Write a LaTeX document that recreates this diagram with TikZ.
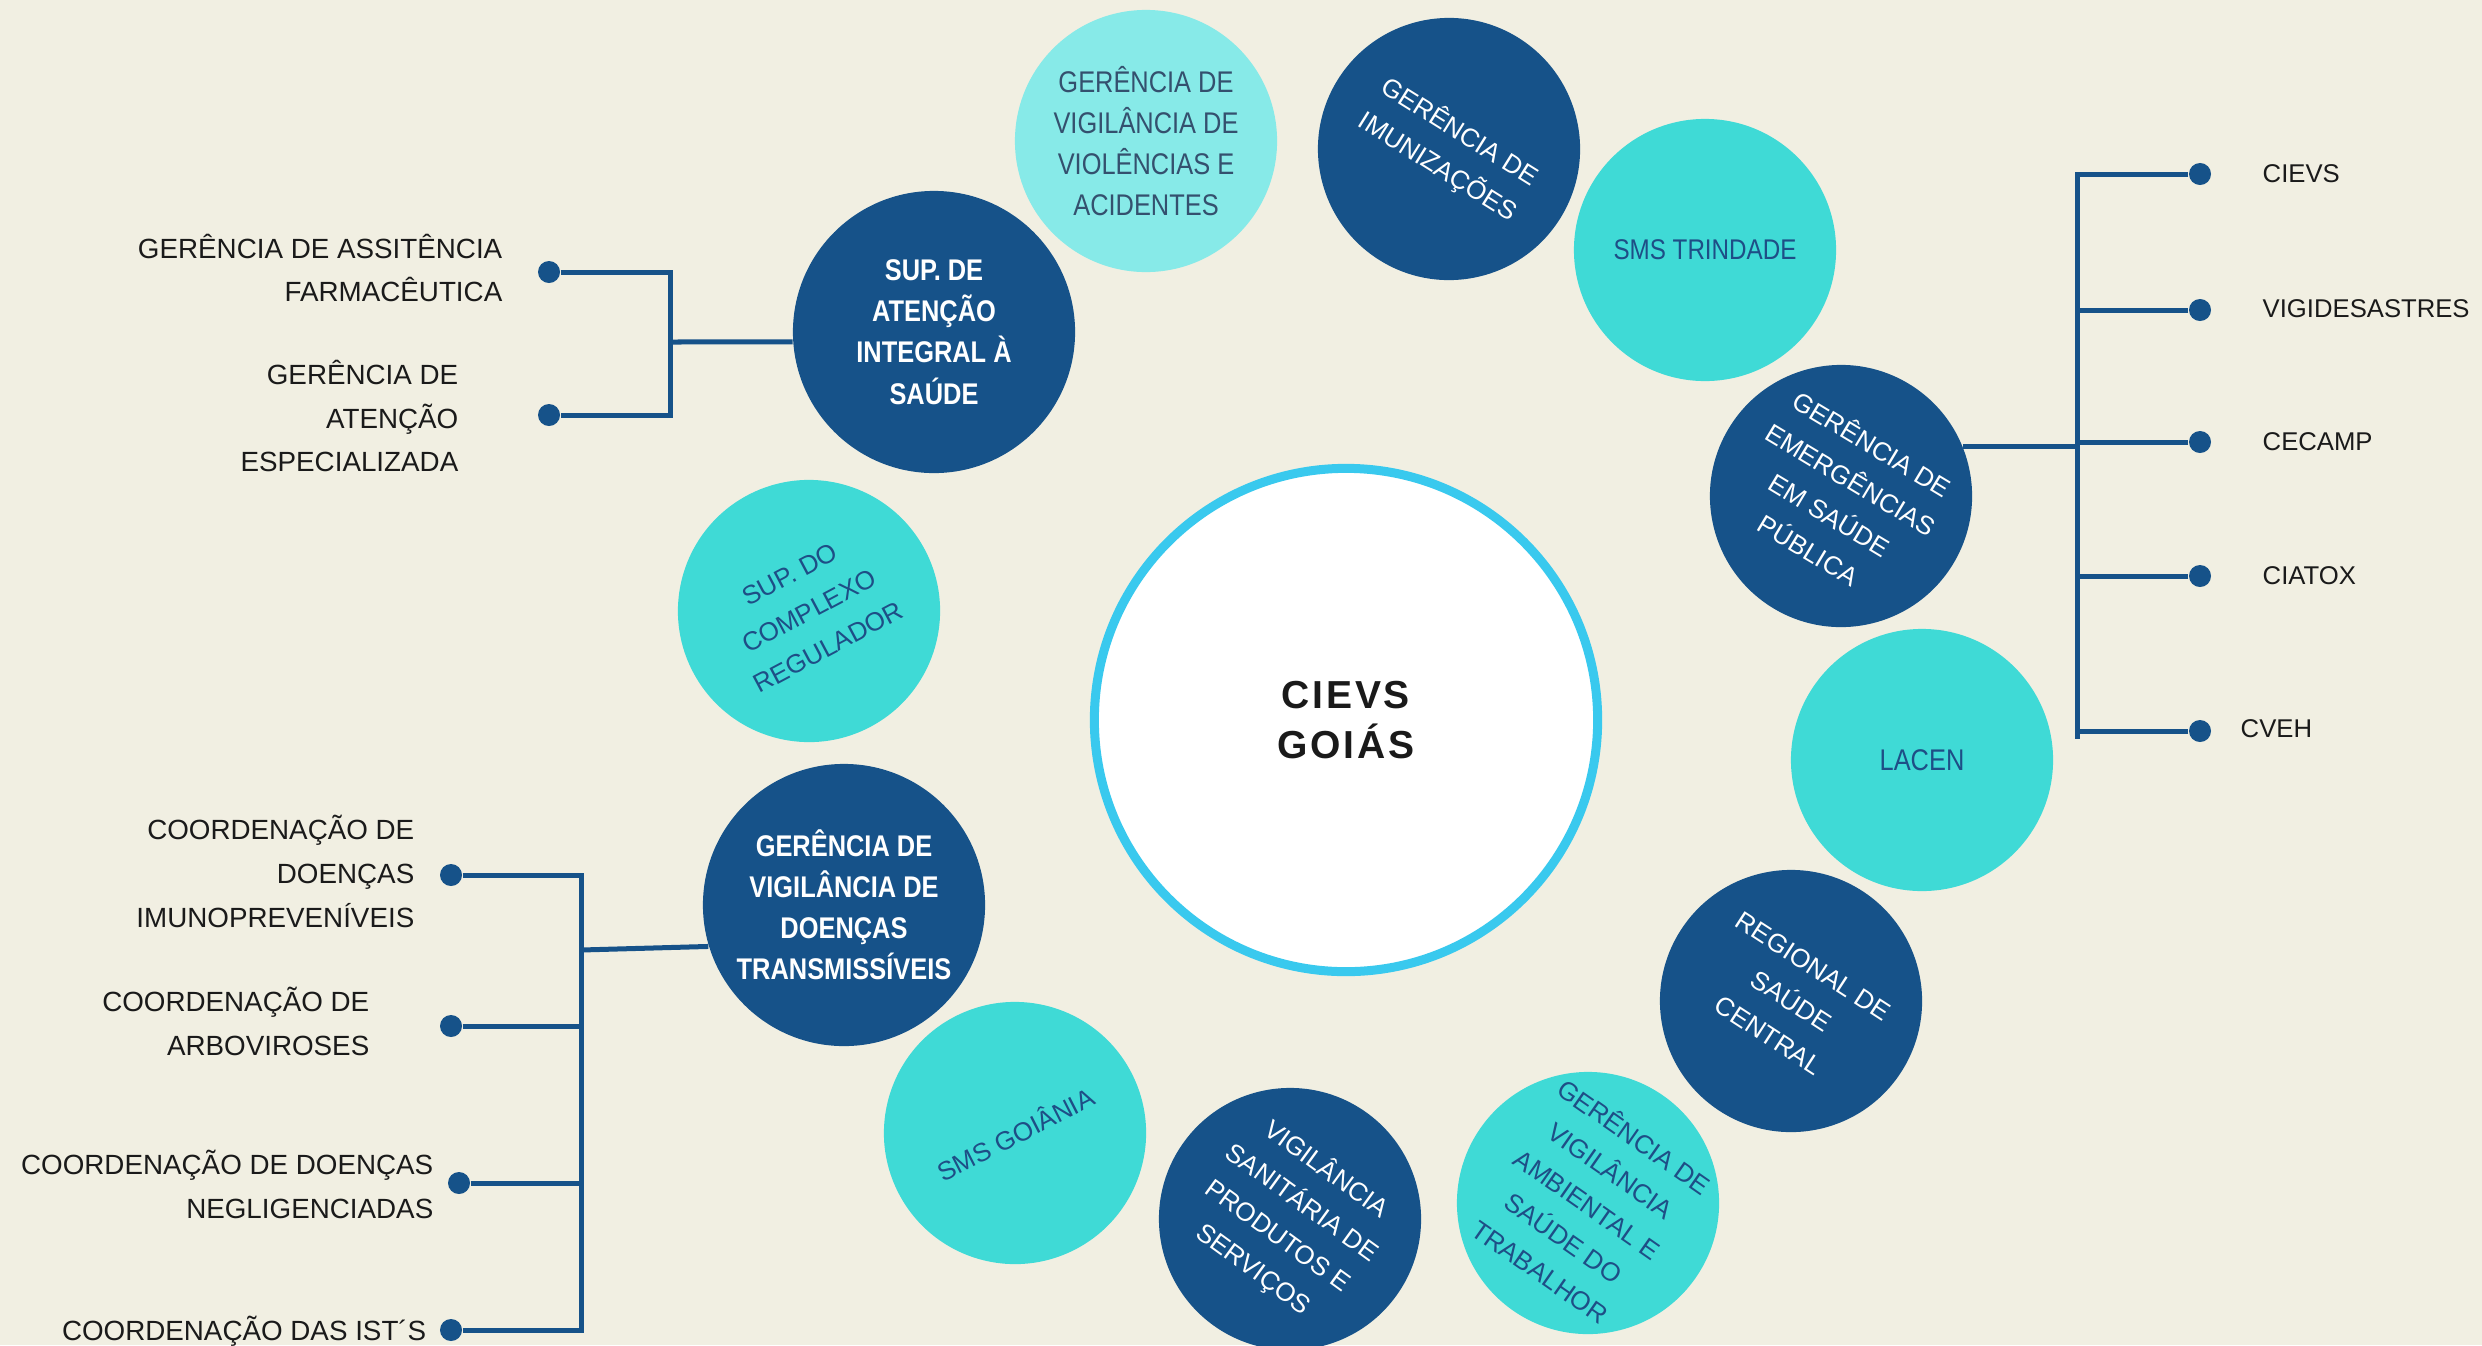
\documentclass[tikz,border=0pt]{standalone}
\usepackage{fontspec}
\setmainfont{Liberation Sans}
\newfontfamily\condf[FakeStretch=0.85]{Liberation Sans}
\newfontfamily\titlef[LetterSpace=7]{Liberation Sans}
\definecolor{bg}{RGB}{241,239,226}
\definecolor{dk}{RGB}{22,82,137}
\definecolor{tq}{RGB}{63,218,214}
\definecolor{lc}{RGB}{135,234,232}
\definecolor{ring}{RGB}{57,201,238}
\definecolor{navytxt}{RGB}{30,78,134}
\definecolor{graytxt}{RGB}{52,80,110}
\definecolor{labtxt}{RGB}{26,26,26}
\tikzset{
  bub/.style={circle, inner sep=0pt, align=center, minimum size=2.62cm},
  dkc/.style={bub, fill=dk, text=white},
  tqc/.style={bub, fill=tq, text=navytxt},
  lcc/.style={bub, fill=lc, text=graytxt},
  big/.style={minimum size=2.82cm},
  condtxt/.style={font=\condf\fontsize{8.5}{11.7}\selectfont},
  rottxt/.style={font=\fontsize{7.4}{11.7}\selectfont},
  tree/.style={draw=dk, line width=0.05cm},
  dot/.style={circle, fill=dk, inner sep=0pt, minimum size=0.22cm},
  lab/.style={inner sep=0pt, text=labtxt, font=\fontsize{7.9}{12.5}\selectfont},
  rlab/.style={lab, anchor=west, font=\fontsize{7.3}{12.5}\selectfont},
}
\begin{document}
\begin{tikzpicture}[x=0.01cm, y=-0.01cm]
\useasboundingbox (0,0) rectangle (2482,1345);
\fill[bg] (0,0) rectangle (2482,1345);

% central circle
\node[circle, draw=ring, line width=0.09cm, fill=white, minimum size=5.03cm, inner sep=0pt,
      align=center, text=labtxt, font=\titlef\bfseries\fontsize{11.1}{14.2}\selectfont]
      (cievs) at (1346,720) {CIEVS\\GOIÁS};

% ring of bubbles
\node[lcc, condtxt] (viol) at (1146,141) {GERÊNCIA DE\\VIGILÂNCIA DE\\VIOLÊNCIAS E\\ACIDENTES};
\node[dkc, rottxt, rotate=-32] (imun) at (1449,149) {GERÊNCIA DE\\IMUNIZAÇÕES};
\node[tqc, font=\condf\fontsize{8.1}{11.7}\selectfont] (trin) at (1705,250) {SMS TRINDADE};
\node[dkc, rottxt, rotate=-31] (emerg) at (1841,496) {GERÊNCIA DE\\EMERGÊNCIAS\\EM SAÚDE\\PÚBLICA};
\node[tqc, condtxt] (lacen) at (1922,760) {LACEN};
\node[dkc, rottxt, rotate=-33] (reg) at (1791,1001) {REGIONAL DE\\SAÚDE\\CENTRAL};
\node[tqc, rottxt, rotate=-35] (amb) at (1588,1203) {GERÊNCIA DE\\VIGILÂNCIA\\AMBIENTAL E\\SAÚDE DO\\TRABALHOR};
\node[dkc, rottxt, rotate=-36] (visa) at (1290,1219) {VIGILÂNCIA\\SANITÁRIA DE\\PRODUTOS E\\SERVIÇOS};
\node[tqc, rottxt, rotate=27] (goia) at (1015,1133) {SMS GOIÂNIA};
\node[dkc, big, font=\condf\bfseries\fontsize{8.5}{11.7}\selectfont] (transm) at (844,905) {GERÊNCIA DE\\VIGILÂNCIA DE\\DOENÇAS\\TRANSMISSÍVEIS};
\node[tqc, rottxt, rotate=28] (compl) at (809,611) {SUP. DO\\COMPLEXO\\REGULADOR};
\node[dkc, big, font=\condf\bfseries\fontsize{8.5}{11.7}\selectfont] (supat) at (934,332) {SUP. DE\\ATENÇÃO\\INTEGRAL À\\SAÚDE};

% top-left tree
\node[dot] (a1) at (549,272) {};
\node[dot] (a2) at (549,415) {};
\coordinate (ja) at (670,342);
\draw[tree] (a1) -| (ja) |- (a2);
\draw[tree] (ja) -- (supat.184);
\node[lab, anchor=east, align=right] (la1) at (503,268) {GERÊNCIA DE ASSITÊNCIA\\FARMACÊUTICA};
\node[lab, anchor=east, align=right] (la2) at (459,416) {GERÊNCIA DE\\ATENÇÃO\\ESPECIALIZADA};

% right tree
\node[dot] (r1) at (2200,174) {};
\node[dot] (r2) at (2200,310) {};
\node[dot] (r3) at (2200,442) {};
\node[dot] (r4) at (2200,576) {};
\node[dot] (r5) at (2200,731) {};
\coordinate (rtop) at (2077,174);
\coordinate (rbot) at (2077,739);
\draw[tree] (r1) -- (rtop) -- (rbot);
\foreach \n in {r2,r3,r4,r5} \draw[tree] (\n) -- (\n -| rtop);
\draw[tree] (emerg.53) -- (emerg.53 -| rtop);
\node[rlab] (lr1) at (2262,174) {CIEVS};
\node[rlab] (lr2) at (2262,309) {VIGIDESASTRES};
\node[rlab] (lr3) at (2262,442) {CECAMP};
\node[rlab] (lr4) at (2262,576) {CIATOX};
\node[rlab] (lr5) at (2240,729) {CVEH};

% bottom-left tree
\node[dot] (c1) at (451,875) {};
\node[dot] (c2) at (451,1026) {};
\node[dot] (c3) at (459,1183) {};
\node[dot] (c4) at (451,1330) {};
\coordinate (jc) at (581,950);
\draw[tree] (c1) -| (jc) |- (c4);
\draw[tree] (c2) -- (c2 -| jc);
\draw[tree] (c3) -- (c3 -| jc);
\draw[tree] (jc) -- (transm.197);
\node[lab, anchor=east, align=right] (lc1) at (415,871) {COORDENAÇÃO DE\\DOENÇAS\\IMUNOPREVENÍVEIS};
\node[lab, anchor=east, align=right] (lc2) at (370,1021) {COORDENAÇÃO DE\\ARBOVIROSES};
\node[lab, anchor=east, align=right] (lc3) at (434,1184) {COORDENAÇÃO DE DOENÇAS\\NEGLIGENCIADAS};
\node[lab, anchor=east, align=right] (lc4) at (427,1331) {COORDENAÇÃO DAS IST´S};
\end{tikzpicture}
\end{document}
